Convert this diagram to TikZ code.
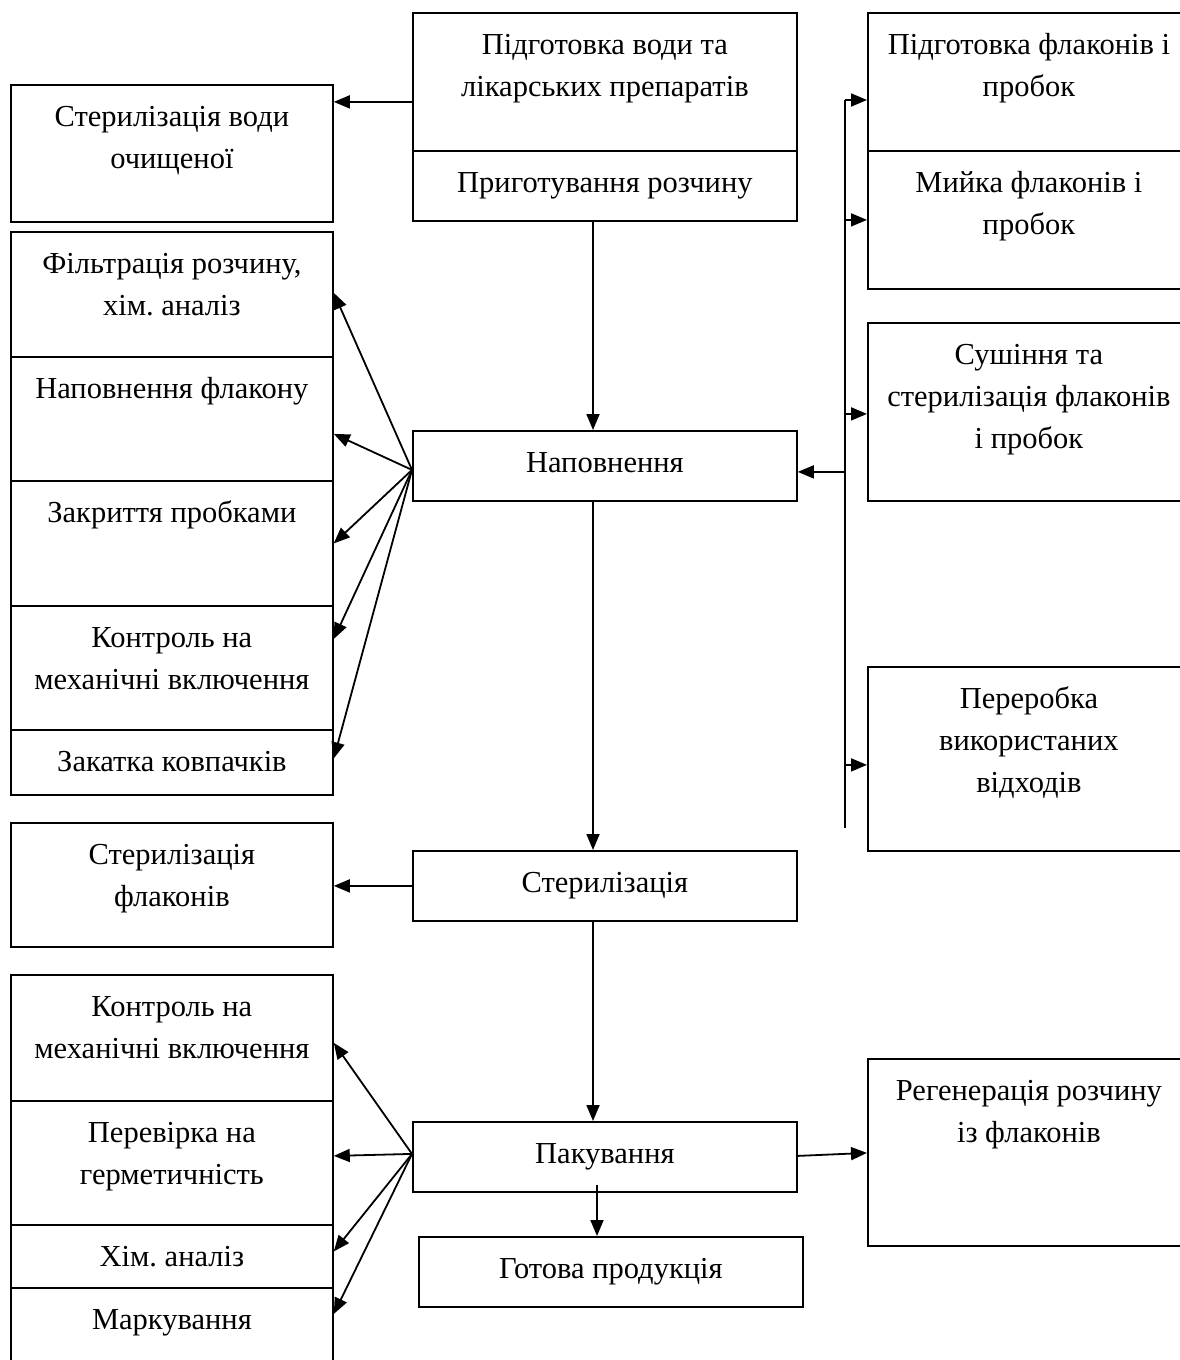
\documentclass[tikz,border=0pt]{standalone}
\usepackage{fontspec}
\setmainfont{Liberation Serif}
\usetikzlibrary{arrows.meta}
\frenchspacing

\begin{document}
\begin{tikzpicture}[x=1pt, y=-1pt,
    blk/.style={draw, line width=1.8pt, anchor=north west, inner sep=0pt},
    txt/.style={anchor=north, inner sep=0pt, align=center, font=\fontsize{30.5}{42}\selectfont},
    arr/.style={line width=1.8pt, -{Triangle[length=16pt,width=13pt]}}]
    \useasboundingbox (0,0) rectangle (1179,1360);

    % centre column
    \node[blk, minimum width=384pt, minimum height=138pt] (pv) at (412,12) {};
    \node[blk, minimum width=384pt, minimum height=70pt] (pr) at (412,150) {};
    \node[blk, minimum width=384pt, minimum height=70pt] (nap) at (412,430) {};
    \node[blk, minimum width=384pt, minimum height=70pt] (ster) at (412,850) {};
    \node[blk, minimum width=384pt, minimum height=70pt] (pak) at (412,1121) {};
    \node[blk, minimum width=384pt, minimum height=70pt] (got) at (418,1236) {};

    \node[txt] (pv-t) at ([yshift=-12.6pt]pv.north) {\strut Підготовка води та\\лікарських препаратів};
    \node[txt] (pr-t) at ([yshift=-12.6pt]pr.north) {\strut Приготування розчину};
    \node[txt] (nap-t) at ([yshift=-12.6pt]nap.north) {\strut Наповнення};
    \node[txt] (ster-t) at ([yshift=-12.6pt]ster.north) {\strut Стерилізація};
    \node[txt] (pak-t) at ([yshift=-12.6pt]pak.north) {\strut Пакування};
    \node[txt] (got-t) at ([yshift=-12.6pt]got.north) {\strut Готова продукція};

    % left column
    \node[blk, minimum width=322pt, minimum height=137pt] (sw) at (10,84) {};
    \node[blk, minimum width=322pt, minimum height=125pt] (f1) at (10,231) {};
    \node[blk, minimum width=322pt, minimum height=124pt] (f2) at (10,356) {};
    \node[blk, minimum width=322pt, minimum height=125pt] (f3) at (10,480) {};
    \node[blk, minimum width=322pt, minimum height=124pt] (f4) at (10,605) {};
    \node[blk, minimum width=322pt, minimum height=65pt] (f5) at (10,729) {};
    \node[blk, minimum width=322pt, minimum height=124pt] (sf) at (10,822) {};
    \node[blk, minimum width=322pt, minimum height=126pt] (k1) at (10,974) {};
    \node[blk, minimum width=322pt, minimum height=124pt] (k2) at (10,1100) {};
    \node[blk, minimum width=322pt, minimum height=63pt] (k3) at (10,1224) {};
    \node[blk, minimum width=322pt, minimum height=85pt] (k4) at (10,1287) {};

    \node[txt] (sw-t) at ([yshift=-12.6pt]sw.north) {\strut Стерилізація води\\очищеної};
    \node[txt] (f1-t) at ([yshift=-12.6pt]f1.north) {\strut Фільтрація розчину,\\хім. аналіз};
    \node[txt] (f2-t) at ([yshift=-12.6pt]f2.north) {\strut Наповнення флакону};
    \node[txt] (f3-t) at ([yshift=-12.6pt]f3.north) {\strut Закриття пробками};
    \node[txt] (f4-t) at ([yshift=-12.6pt]f4.north) {\strut Контроль на\\механічні включення};
    \node[txt] (f5-t) at ([yshift=-12.6pt]f5.north) {\strut Закатка ковпачків};
    \node[txt] (sf-t) at ([yshift=-12.6pt]sf.north) {\strut Стерилізація\\флаконів};
    \node[txt] (k1-t) at ([yshift=-12.6pt]k1.north) {\strut Контроль на\\механічні включення};
    \node[txt] (k2-t) at ([yshift=-12.6pt]k2.north) {\strut Перевірка на\\герметичність};
    \node[txt] (k3-t) at ([yshift=-12.6pt]k3.north) {\strut Хім. аналіз};
    \node[txt] (k4-t) at ([yshift=-12.6pt]k4.north) {\strut Маркування};

    % right column
    \node[blk, minimum width=322pt, minimum height=138pt] (r1) at (867,12) {};
    \node[blk, minimum width=322pt, minimum height=138pt] (r2) at (867,150) {};
    \node[blk, minimum width=322pt, minimum height=178pt] (r3) at (867,322) {};
    \node[blk, minimum width=322pt, minimum height=184pt] (r4) at (867,666) {};
    \node[blk, minimum width=322pt, minimum height=187pt] (reg) at (867,1058) {};

    \node[txt] (r1-t) at ([yshift=-12.6pt]r1.north) {\strut Підготовка флаконів і\\пробок};
    \node[txt] (r2-t) at ([yshift=-12.6pt]r2.north) {\strut Мийка флаконів і\\пробок};
    \node[txt] (r3-t) at ([yshift=-12.6pt]r3.north) {\strut Сушіння та\\стерилізація флаконів\\і пробок};
    \node[txt] (r4-t) at ([yshift=-12.6pt]r4.north) {\strut Переробка\\використаних\\відходів};
    \node[txt] (reg-t) at ([yshift=-12.6pt]reg.north) {\strut Регенерація розчину\\із флаконів};

    % main flow
    \coordinate (ax) at (593,0);
    \coordinate (gx) at (597,0);
    \draw[arr] (pr.south -| ax) -- (nap.north -| ax);
    \draw[arr] (nap.south -| ax) -- (ster.north -| ax);
    \draw[arr] (ster.south -| ax) -- (pak.north -| ax);
    \draw[arr] ([yshift=8pt]pak.south -| gx) -- (got.north -| gx);
    \draw[arr] ([yshift=1pt]pak.east) -- ([yshift=4pt]pak.east -| reg.west);

    % side branches
    \draw[arr] ([yshift=-20pt]pv.west) -- ([yshift=-20pt]pv.west -| sw.east);
    \draw[arr] (ster.west) -- (ster.west -| sf.east);

    \coordinate (nfan) at ([yshift=-4pt]nap.west);
    \draw[arr] (nfan) -- ([yshift=1.5pt]f1.east);
    \draw[arr] (nfan) -- ([yshift=-15pt]f2.east);
    \draw[arr] (nfan) -- (f3.east);
    \draw[arr] (nfan) -- ([yshift=29pt]f4.east);
    \draw[arr] (nfan) -- ([yshift=4pt]f5.east);

    \coordinate (pfan) at ([yshift=3pt]pak.west);
    \draw[arr] (pfan) -- ([yshift=-5pt]k1.east);
    \draw[arr] (pfan) -- ([yshift=7pt]k2.east);
    \draw[arr] (pfan) -- ([yshift=5pt]k3.east);
    \draw[arr] (pfan) -- ([yshift=16.5pt]k4.east);

    % bus to the bottles line
    \coordinate (bt) at (845,100);
    \coordinate (bb) at (845,828);
    \draw[line width=1.8pt] (bt) -- (bb);
    \draw[arr] (bt) -- (bt -| r1.west);
    \draw[arr] (r2.west -| bt) -- (r2.west);
    \draw[arr] ([yshift=-2pt]r3.west -| bt) -- ([yshift=-2pt]r3.west);
    \draw[arr] ([yshift=-6pt]r4.west -| bt) -- ([yshift=-6pt]r4.west);
    \draw[arr] ([yshift=-6pt]nap.east -| bt) -- ([yshift=-6pt]nap.east);
\end{tikzpicture}
\end{document}
